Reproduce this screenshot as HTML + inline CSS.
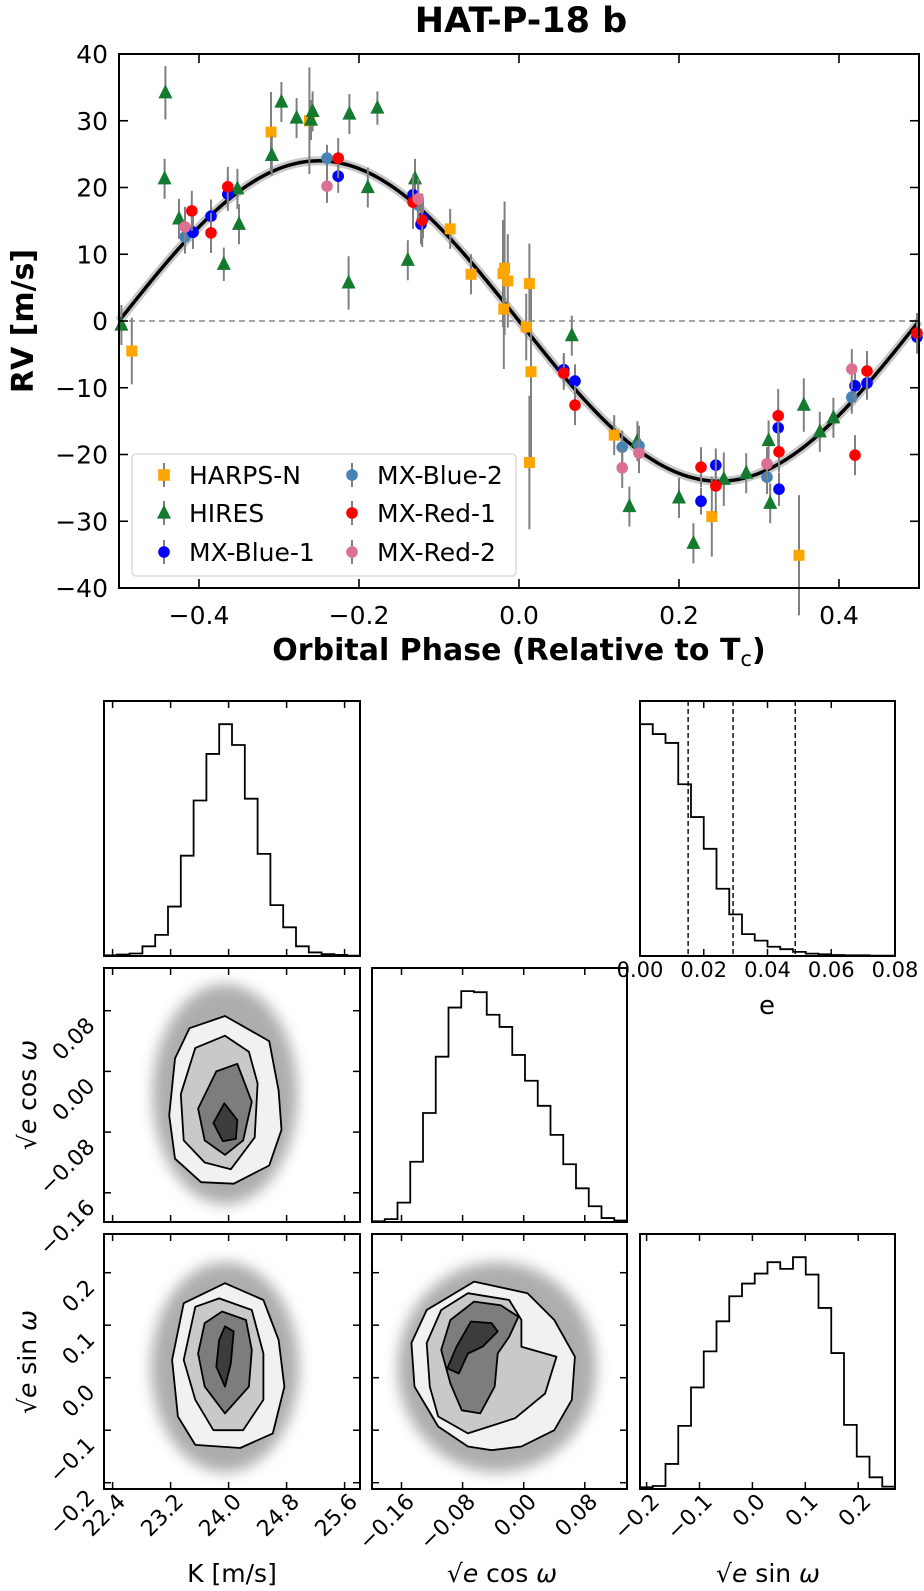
<!DOCTYPE html>
<html><head><meta charset="utf-8"><style>
html,body{margin:0;padding:0;background:#fff;}
svg{display:block;font-family:"DejaVu Sans","Liberation Sans",sans-serif;}
</style></head><body>
<svg id="fig" width="924" height="1591" viewBox="0 0 924 1591" xmlns="http://www.w3.org/2000/svg"></svg>
<script>
// ===== RV data =====
const harpsX=[-0.484,-0.31,-0.262,-0.086,-0.06,-0.02,-0.018,-0.014,-0.019,0.009,0.013,0.015,0.013,0.119,0.241,0.35];
const harpsY=[-4.5,28.3,30,13.8,7,7.1,7.9,6,1.8,-0.9,5.6,-7.6,-21.2,-17.1,-29.3,-35.1];
const harpsE=[5,6,8,3,3,8,10,7,9,5,6,14,10,3,6,9];
const hiresX=[-0.497,-0.442,-0.443,-0.425,-0.369,-0.35,-0.352,-0.309,-0.297,-0.278,-0.26,-0.258,-0.212,-0.213,-0.177,-0.189,-0.139,-0.13,0.066,0.138,0.148,0.2,0.218,0.256,0.284,0.312,0.314,0.356,0.376,0.393];
const hiresY=[-0.6,34.2,21.3,15.3,8.5,14.5,19.8,24.8,32.8,30.4,30.1,31.4,31,5.7,31.9,20,9.1,21.3,-2.2,-27.8,-18,-26.5,-33.3,-23.7,-22.8,-17.9,-27.3,-12.6,-16.6,-14.5];
const hiresE=[3,4,3,3,2.5,3,3,3,3,3,3,3,3,4,2.5,3,3,3,3,3,3,3,3,4,3,3,3,4,3,3];
const blue1X=[-0.4075,-0.385,-0.364,-0.226,-0.1325,-0.12,-0.1225,0.056,0.07,0.2275,0.246,0.324,0.325,0.42,0.435,0.4975];
const blue1Y=[13.3,15.7,19.0,21.7,18.9,15.4,14.5,-7.3,-9.0,-27.0,-21.6,-16.0,-25.2,-9.7,-9.3,-2.4];
const blue1E=[2.5,2.5,2.5,2.5,3,3,3,2.5,2.5,2,2.5,3,2.5,2.5,2.5,2.5];
const blue2X=[-0.4175,-0.24,-0.126,0.129,0.15,0.31,0.416];
const blue2Y=[12.6,24.4,17.4,-18.9,-18.7,-23.4,-11.4];
const blue2E=[2.5,2,3,2.5,3,2.5,2.5];
const red1X=[-0.409,-0.385,-0.364,-0.226,-0.1325,-0.121,0.056,0.07,0.2275,0.246,0.324,0.325,0.42,0.435,0.4975];
const red1Y=[16.5,13.2,20.1,24.4,17.8,15.1,-7.8,-12.6,-21.9,-24.7,-14.2,-19.6,-20.1,-7.5,-1.8];
const red1E=[3,3,3,3,4,4,2.5,3,3,4,4,3,3,3,3];
const red2X=[-0.4175,-0.24,-0.126,0.129,0.15,0.31,0.416];
const red2Y=[14.1,20.2,18.3,-22.0,-19.8,-21.4,-7.2];
const red2E=[3,2.5,3,3,3,2.5,3];
const modelK=[24];
const rvXTicks=[-0.4,-0.2,0.0,0.2,0.4];
const rvXTickLabels=["\u22120.4","\u22120.2","0.0","0.2","0.4"];
const rvYTicks=[-40,-30,-20,-10,0,10,20,30,40];
const rvYTickLabels=["\u221240","\u221230","\u221220","\u221210","0","10","20","30","40"];

// ===== Corner data =====
const kTicks=[22.4,23.2,24.0,24.8,25.6];
const kTickLabels=["22.4","23.2","24.0","24.8","25.6"];
const ecTicks=[-0.16,-0.08,0.00,0.08];
const ecTickLabels=["\u22120.16","\u22120.08","0.00","0.08"];
const esTicks=[-0.2,-0.1,0.0,0.1,0.2];
const esTickLabels=["\u22120.2","\u22120.1","0.0","0.1","0.2"];
const eTicks=[0.00,0.02,0.04,0.06,0.08];
const eTickLabels=["0.00","0.02","0.04","0.06","0.08"];
const kHist=[2,4,7,27,59,138,280,434,564,647,589,439,285,142,80,27,10,5,3,1];
const eHist=[679,650,624,503,407,314,197,122,64,45,27,20,12,7,5,3,2,2,1,1];
const ecHist=[2,8,54,168,304,461,598,644,641,578,544,466,394,324,243,161,94,44,11,4];
const esHist=[5,9,75,189,304,412,502,577,615,645,679,659,694,642,542,407,192,97,35,7];
const eQuantiles=[0.0151,0.0292,0.0487];
// contours [x,y] in data units
const kEcContours=[
 [[23.95,0.073],[24.56,0.040],[24.69,-0.025],[24.73,-0.077],[24.56,-0.124],[24.07,-0.148],[23.62,-0.146],[23.26,-0.115],[23.18,-0.058],[23.26,0.017],[23.46,0.057]],
 [[23.95,0.047],[24.28,0.026],[24.40,-0.016],[24.36,-0.087],[24.03,-0.129],[23.67,-0.12],[23.38,-0.091],[23.34,-0.030],[23.54,0.031]],
 [[24.12,0.010],[24.32,-0.040],[24.20,-0.091],[23.95,-0.110],[23.67,-0.091],[23.58,-0.049],[23.83,0.000]],
 [[23.94,-0.042],[24.12,-0.064],[24.10,-0.089],[23.92,-0.092],[23.79,-0.068]]];
const kEsContours=[
 [[23.95,0.180],[24.48,0.148],[24.69,0.072],[24.77,-0.017],[24.61,-0.106],[24.16,-0.134],[23.54,-0.128],[23.30,-0.074],[23.22,0.034],[23.38,0.142]],
 [[23.87,0.151],[24.32,0.129],[24.48,0.046],[24.48,-0.042],[24.20,-0.100],[23.79,-0.100],[23.54,-0.042],[23.38,0.034],[23.54,0.135]],
 [[23.91,0.126],[24.24,0.110],[24.32,0.053],[24.28,-0.017],[23.95,-0.068],[23.67,-0.017],[23.58,0.046],[23.67,0.104]],
 [[23.95,0.098],[24.07,0.088],[24.03,0.027],[23.95,-0.017],[23.83,0.021],[23.87,0.072]]];
const ecEsContours=[
 [[-0.065,0.183],[0.005,0.161],[0.040,0.110],[0.067,0.040],[0.063,-0.042],[0.040,-0.100],[-0.003,-0.131],[-0.042,-0.138],[-0.073,-0.131],[-0.112,-0.093],[-0.143,-0.017],[-0.147,0.066],[-0.127,0.129]],
 [[-0.073,0.161],[-0.019,0.148],[-0.003,0.110],[-0.003,0.059],[0.043,0.040],[0.028,-0.030],[-0.011,-0.077],[-0.073,-0.106],[-0.112,-0.074],[-0.123,-0.017],[-0.127,0.066],[-0.108,0.129]],
 [[-0.065,0.145],[-0.030,0.138],[-0.007,0.116],[-0.019,0.078],[-0.034,0.046],[-0.038,-0.017],[-0.057,-0.068],[-0.081,-0.062],[-0.096,-0.011],[-0.108,0.053],[-0.096,0.110]],
 [[-0.069,0.107],[-0.042,0.104],[-0.034,0.088],[-0.054,0.059],[-0.073,0.046],[-0.085,0.008],[-0.100,0.018],[-0.088,0.059]]];
// scatter cloud: centre x, centre y, semi-axis x, semi-axis y
const kEcCloud=[23.95,-0.03,1.0,0.145];
const kEsCloud=[23.95,0.02,1.02,0.2];
const ecEsCloud=[-0.035,0.02,0.13,0.2];

const NS="http://www.w3.org/2000/svg";
const svg=document.getElementById('fig');
function mk(tag,attrs,parent){const e=document.createElementNS(NS,tag);for(const k in attrs)e.setAttribute(k,attrs[k]);(parent||svg).appendChild(e);return e;}

const defs=mk('defs',{});
const flt=mk('filter',{id:'blur',x:'-50%',y:'-50%',width:'200%',height:'200%'},defs);
mk('feGaussianBlur',{stdDeviation:'7'},flt);

// ===== RV panel =====
const L=119,R=919,T=54,B=588;
const px=v=>L+(v+0.5)*(R-L);
const py=v=>T+(40-v)/80*(B-T);
const rvG=mk('g',{});


const title=mk('text',{x:521,y:32,'text-anchor':'middle','font-size':35,'font-weight':'bold'});
title.textContent='HAT-P-18 b';


const zl=mk('line',{x1:L,x2:R,y1:py(0),y2:py(0),stroke:'#888',"stroke-width":1.6,'stroke-dasharray':'6,4'},rvG);


let d='';
for(let i=0;i<=400;i++){const ph=-0.5+i/400;const v=-modelK[0]*Math.sin(2*Math.PI*ph);d+=(i?'L':'M')+px(ph).toFixed(2)+','+py(v).toFixed(2);}
const band=mk('path',{d:d,fill:'none',stroke:'#c8c8c8','stroke-width':9},rvG);


const model=mk('path',{d:d,fill:'none',stroke:'#000','stroke-width':3.5},rvG);


function marker(g,type,color,x,y,s){
 let m;
 if(type==='s') m=mk('rect',{x:x-s,y:y-s,width:2*s,height:2*s,fill:color},g);
 else if(type==='t') m=mk('polygon',{points:`${x},${y-s*1.2} ${x-s},${y+s*0.8} ${x+s},${y+s*0.8}`,fill:color},g);
 else m=mk('circle',{cx:x,cy:y,r:s,fill:color},g);
 return m;
}
function series(name,xs,ys,es,type,color,s){
 const g=mk('g',{},rvG);
 
 
 for(let i=0;i<xs.length;i++){
  const eb=mk('line',{x1:px(xs[i]),x2:px(xs[i]),y1:py(ys[i]-es[i]),y2:py(ys[i]+es[i]),stroke:'#808080','stroke-width':2},g);
  
  
 }
 for(let i=0;i<xs.length;i++){
  const m=marker(g,type,color,px(xs[i]),py(ys[i]),s);
  
  
 }
}
series('harps-n',harpsX,harpsY,harpsE,'s','#ffa500',5.5);
series('hires',hiresX,hiresY,hiresE,'t','#137a2f',7);
series('mx-blue-2',blue2X,blue2Y,blue2E,'c','#4682b4',5.8);
series('mx-blue-1',blue1X,blue1Y,blue1E,'c','#0000ff',5.8);
series('mx-red-1',red1X,red1Y,red1E,'c','#ff0000',5.8);
series('mx-red-2',red2X,red2Y,red2E,'c','#db7093',5.8);
const fr=mk('rect',{x:L,y:T,width:R-L,height:B-T,fill:'none',stroke:'#000','stroke-width':2},rvG);


rvXTicks.forEach((t,i)=>{
 mk('line',{x1:px(t),x2:px(t),y1:B,y2:B-9,stroke:'#000','stroke-width':1.6},rvG);
 mk('line',{x1:px(t),x2:px(t),y1:T,y2:T+9,stroke:'#000','stroke-width':1.6},rvG);
 const tl=mk('text',{x:px(t),y:624,'text-anchor':'middle','font-size':25},rvG);
 tl.textContent=rvXTickLabels[i];
 
 
});
rvYTicks.forEach((t,i)=>{
 mk('line',{x1:L,x2:L+9,y1:py(t),y2:py(t),stroke:'#000','stroke-width':1.6},rvG);
 mk('line',{x1:R,x2:R-9,y1:py(t),y2:py(t),stroke:'#000','stroke-width':1.6},rvG);
 const tl=mk('text',{x:108,y:py(t)+9,'text-anchor':'end','font-size':25},rvG);
 tl.textContent=rvYTickLabels[i];
 
 
});
const xt=mk('text',{x:519,y:660,'text-anchor':'middle','font-size':30,'font-weight':'bold'},rvG);
xt.innerHTML='Orbital Phase (Relative to T<tspan font-weight="normal" font-size="21" dy="6">c</tspan><tspan dy="-6">)</tspan>';


const yt=mk('text',{x:0,y:0,'text-anchor':'middle','font-size':30,'font-weight':'bold',transform:`translate(33,${py(0)}) rotate(-90)`},rvG);
yt.textContent='RV [m/s]';


const lg=mk('g',{},rvG);


mk('rect',{x:132,y:454,width:384,height:122,rx:4,fill:'#fff','fill-opacity':0.85,stroke:'#d6d6d6','stroke-width':1.3},lg);
const legItems=[['HARPS-N','s','#ffa500',164,475],['HIRES','t','#137a2f',164,513],['MX-Blue-1','c','#0000ff',164,552],['MX-Blue-2','c','#4682b4',352,475],['MX-Red-1','c','#ff0000',352,513],['MX-Red-2','c','#db7093',352,552]];
legItems.forEach(it=>{
 const g=mk('g',{},lg);
 
 
 mk('line',{x1:it[3],x2:it[3],y1:it[4]-12,y2:it[4]+12,stroke:'#808080','stroke-width':2},g);
 marker(g,it[1],it[2],it[3],it[4],it[1]==='t'?7:5.8);
 const t=mk('text',{x:it[3]+25,y:it[4]+9,'font-size':25},g);
 t.textContent=it[0];
});

// ===== Corner plot =====
const colX=[[104,360],[372,627],[640,895]];
const rowY=[[701,956],[968,1222],[1234,1489]];
const kMap=v=>112.6+(v-22.4)/0.8*58.0;
const ecMap=v=>523.7+v/0.08*61.1;
const esMapX=v=>752.4+v/0.1*52.9;
const eMap=v=>640+v/0.08*255;
const ecMapY=v=>1071.4-v/0.08*60.7;
const esMapY=v=>1377.7-v/0.1*52.5;
const TK=7;

function frame(g,c,r){
 mk('rect',{x:colX[c][0],y:rowY[r][0],width:colX[c][1]-colX[c][0],height:rowY[r][1]-rowY[r][0],fill:'none',stroke:'#000','stroke-width':2},g);
}
function xticks(g,c,r,ticks,map){
 ticks.forEach(t=>{const x=map(t);if(x<colX[c][0]+1||x>colX[c][1]-1)return;
  mk('line',{x1:x,x2:x,y1:rowY[r][1],y2:rowY[r][1]-TK,stroke:'#000','stroke-width':1.5},g);
  mk('line',{x1:x,x2:x,y1:rowY[r][0],y2:rowY[r][0]+TK,stroke:'#000','stroke-width':1.5},g);});
}
function yticks(g,c,r,ticks,map){
 ticks.forEach(t=>{const y=map(t);if(y<rowY[r][0]+1||y>rowY[r][1]-1)return;
  mk('line',{x1:colX[c][0],x2:colX[c][0]+TK,y1:y,y2:y,stroke:'#000','stroke-width':1.5},g);
  mk('line',{x1:colX[c][1],x2:colX[c][1]-TK,y1:y,y2:y,stroke:'#000','stroke-width':1.5},g);});
}
function hist(g,c,r,counts,x0,x1){
 const mx=Math.max(...counts)*1.1;
 const yb=rowY[r][1],h=rowY[r][1]-rowY[r][0];
 const w=(x1-x0)/counts.length;
 let dd='M'+x0+','+yb;
 counts.forEach((v,i)=>{const y=yb-v/mx*h;dd+=`L${x0+i*w},${y}L${x0+(i+1)*w},${y}`;});
 dd+=`L${x1},${yb}`;
 const p=mk('path',{d:dd,fill:'none',stroke:'#000','stroke-width':1.8},g);
 
 
}
function panel2d(g,c,r,cloud,contours,mx,my){
 const cp=mk('clipPath',{id:'cp'+c+r},defs);
 mk('rect',{x:colX[c][0],y:rowY[r][0],width:colX[c][1]-colX[c][0],height:rowY[r][1]-rowY[r][0]},cp);
 const gg=mk('g',{'clip-path':`url(#cp${c}${r})`},g);
 const cx=mx(cloud[0]),cy=my(cloud[1]),rx=Math.abs(mx(cloud[0]+cloud[2])-cx),ry=Math.abs(my(cloud[1]+cloud[3])-cy);
 const cl=mk('ellipse',{cx:cx,cy:cy,rx:rx,ry:ry,fill:'#8a8a8a','fill-opacity':0.7,filter:'url(#blur)'},gg);
 
 
 const fills=['#f1f1f1','#c9c9c9','#7d7d7d','#3c3c3c'];
 contours.forEach((poly,k)=>{
  const pts=poly.map(p=>mx(p[0]).toFixed(1)+','+my(p[1]).toFixed(1)).join(' ');
  const pg=mk('polygon',{points:pts,fill:fills[k],stroke:'#000','stroke-width':1.8,'stroke-linejoin':'round'},gg);
  
  
 });
}
function rotLabel(g,x,y,txt,anchor){
 const t=mk('text',{x:0,y:0,'font-size':22,'text-anchor':anchor||'end',transform:`translate(${x},${y}) rotate(-45)`},g);
 t.textContent=txt;
 
 
}
let g=mk('g',{});


hist(g,0,0,kHist,colX[0][0],colX[0][1]);
xticks(g,0,0,kTicks,kMap);frame(g,0,0);
g=mk('g',{});


hist(g,2,0,eHist,colX[2][0],colX[2][1]);
eQuantiles.forEach(q=>{const l=mk('line',{x1:eMap(q),x2:eMap(q),y1:rowY[0][0],y2:rowY[0][1],stroke:'#000','stroke-width':1.4,'stroke-dasharray':'5,3'},g);
 
 });
xticks(g,2,0,eTicks,eMap);frame(g,2,0);
eTicks.forEach((t,i)=>{const tl=mk('text',{x:eMap(t),y:977,'font-size':21,'text-anchor':'middle'},g);tl.textContent=eTickLabels[i];
 
 });
const el=mk('text',{x:767,y:1014,'font-size':26,'text-anchor':'middle'},g);el.textContent='e';


g=mk('g',{});


panel2d(g,0,1,kEcCloud,kEcContours,kMap,ecMapY);
xticks(g,0,1,kTicks,kMap);yticks(g,0,1,ecTicks,ecMapY);frame(g,0,1);
ecTicks.forEach((t,i)=>rotLabel(g,96,ecMapY(t)+16,ecTickLabels[i]));
g=mk('g',{});


hist(g,1,1,ecHist,colX[1][0],colX[1][1]);
xticks(g,1,1,ecTicks,ecMap);frame(g,1,1);
g=mk('g',{});


panel2d(g,0,2,kEsCloud,kEsContours,kMap,esMapY);
xticks(g,0,2,kTicks,kMap);yticks(g,0,2,esTicks,esMapY);frame(g,0,2);
esTicks.forEach((t,i)=>rotLabel(g,96,esMapY(t)+16,esTickLabels[i]));
kTicks.forEach((t,i)=>rotLabel(g,kMap(t)+14,1503,kTickLabels[i]));
g=mk('g',{});


panel2d(g,1,2,ecEsCloud,ecEsContours,ecMap,esMapY);
xticks(g,1,2,ecTicks,ecMap);yticks(g,1,2,esTicks,esMapY);frame(g,1,2);
ecTicks.forEach((t,i)=>rotLabel(g,ecMap(t)+14,1503,ecTickLabels[i]));
g=mk('g',{});


hist(g,2,2,esHist,colX[2][0],colX[2][1]);
xticks(g,2,2,esTicks,esMapX);frame(g,2,2);
esTicks.forEach((t,i)=>rotLabel(g,esMapX(t)+14,1503,esTickLabels[i]));
function title2(x,y,html,rot,name){
 const t=mk('text',{x:0,y:0,'font-size':25,'text-anchor':'middle',transform:`translate(${x},${y})${rot?' rotate(-90)':''}`});
 t.innerHTML=html;
 
 
}
title2(232,1582,'K [m/s]',false,'k-axis-title');
title2(502,1582,'\u221A<tspan font-style="italic">e</tspan> cos <tspan font-style="italic">\u03C9</tspan>',false,'ecosw-x-axis-title');
title2(768,1582,'\u221A<tspan font-style="italic">e</tspan> sin <tspan font-style="italic">\u03C9</tspan>',false,'esinw-x-axis-title');
title2(36,1095,'\u221A<tspan font-style="italic">e</tspan> cos <tspan font-style="italic">\u03C9</tspan>',true,'ecosw-y-axis-title');
title2(36,1362,'\u221A<tspan font-style="italic">e</tspan> sin <tspan font-style="italic">\u03C9</tspan>',true,'esinw-y-axis-title');
</script>
</body></html>
